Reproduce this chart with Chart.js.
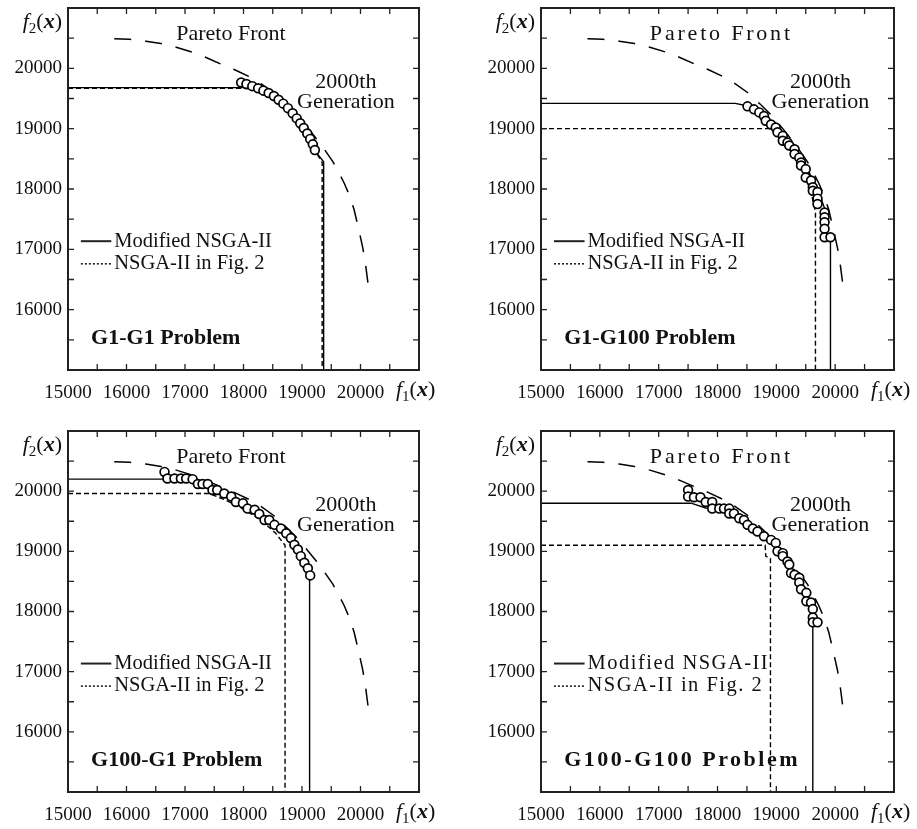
<!DOCTYPE html>
<html>
<head>
<meta charset="utf-8">
<title>Modified NSGA-II vs NSGA-II</title>
<script src="https://cdn.jsdelivr.net/npm/chart.js@4.4.1/dist/chart.umd.min.js"></script>
<style>
  html, body { margin: 0; padding: 0; background: #fff; }
  .cell { position: absolute; }
</style>
</head>
<body>
<div class="cell" style="left:0;top:0;width:459px;height:414px"><canvas id="g1g1"></canvas></div>
<div class="cell" style="left:458px;top:0;width:459px;height:414px"><canvas id="g1g100"></canvas></div>
<div class="cell" style="left:0;top:414px;width:459px;height:415px"><canvas id="g100g1"></canvas></div>
<div class="cell" style="left:458px;top:414px;width:459px;height:415px"><canvas id="g100g100"></canvas></div>
<script>
const serif = "'Liberation Serif', 'Times New Roman', serif";
Chart.defaults.font.family = serif;
Chart.defaults.color = '#111';

const axisMin = 15000, axisMax = 21000, tickStep = 500;
const xTickLabels = [15000, 16000, 17000, 18000, 19000, 20000];
const yTickLabels = [16000, 17000, 18000, 19000, 20000];

// Pareto front (same in all four problems)
const paretoF1 = [15790, 16050, 16330, 16590, 16850, 17150, 17360, 17640, 17840, 18080, 18310, 18510, 18710,
  18900, 19100, 19250, 19380, 19530, 19630, 19720, 19800, 19890, 19970, 20040, 20090, 20130];
const paretoF2 = [20490, 20480, 20450, 20410, 20350, 20260, 20180, 20060, 19980, 19870, 19740, 19600, 19420,
  19240, 19010, 18830, 18660, 18450, 18270, 18100, 17920, 17660, 17330, 17020, 16720, 16420];

// G1-G1
const g1g1PopF1 = [17960, 18050, 18150, 18250, 18340, 18430, 18520, 18600, 18680, 18760, 18840, 18910, 18970, 19030, 19090, 19140, 19185, 19220];
const g1g1PopF2 = [19765, 19740, 19705, 19668, 19630, 19590, 19540, 19480, 19415, 19340, 19255, 19170, 19090, 19010, 18920, 18830, 18740, 18645];
const g1g1ModF1 = [15000, 18000, 18200, 18450, 18700, 18950, 19150, 19280, 19370, 19370];
const g1g1ModF2 = [19680, 19680, 19660, 19560, 19380, 19110, 18820, 18560, 18450, 15000];
const g1g1OldF1 = [15000, 18000, 18200, 18450, 18700, 18950, 19150, 19270, 19345, 19345];
const g1g1OldF2 = [19670, 19670, 19650, 19550, 19370, 19100, 18810, 18560, 18440, 15000];

// G1-G100
const g1g100PopF1 = [18510, 18620, 18710, 18790, 18820, 18910, 18990, 19020, 19110, 19110, 19190, 19220, 19310, 19310, 19390, 19420,
  19420, 19500, 19500, 19590, 19620, 19620, 19700, 19700, 19700, 19820, 19820, 19820, 19820, 19820, 19920];
const g1g100PopF2 = [19370, 19320, 19270, 19210, 19130, 19070, 19020, 18940, 18880, 18800, 18770, 18720, 18660, 18580, 18520, 18440,
  18390, 18330, 18190, 18140, 18030, 17970, 17950, 17840, 17750, 17610, 17530, 17450, 17340, 17200, 17200];
const g1g100ModF1 = [15000, 18300, 18500, 18700, 18900, 19100, 19300, 19450, 19550, 19650, 19740, 19830, 19830, 19920, 19920];
const g1g100ModF2 = [19420, 19420, 19380, 19300, 19120, 18920, 18700, 18450, 18300, 18050, 17900, 17650, 17200, 17200, 15000];
const g1g100OldF1 = [15000, 18950, 19150, 19350, 19500, 19600, 19665, 19665];
const g1g100OldF2 = [19000, 19000, 18780, 18500, 18200, 17900, 17620, 15000];

// G100-G1
const g100g1PopF1 = [16650, 16700, 16820, 16930, 17020, 17130, 17220, 17300, 17390, 17470, 17550, 17670, 17790, 17870, 17990,
  18070, 18190, 18270, 18360, 18440, 18530, 18640, 18730, 18810, 18870, 18930, 18980, 19040, 19100, 19140];
const g100g1PopF2 = [20320, 20210, 20210, 20210, 20210, 20200, 20120, 20120, 20120, 20020, 20020, 19960, 19910, 19820, 19800,
  19710, 19690, 19620, 19520, 19520, 19440, 19380, 19300, 19220, 19110, 19030, 18920, 18810, 18720, 18600];
const g100g1ModF1 = [15000, 16650, 17100, 17200, 17450, 17520, 17700, 18000, 18300, 18600, 18850, 19000, 19130, 19130];
const g100g1ModF2 = [20200, 20200, 20200, 20120, 20120, 20020, 19960, 19800, 19620, 19400, 19170, 18930, 18620, 15000];
const g100g1OldF1 = [15000, 17420, 17700, 18000, 18300, 18550, 18710, 18710];
const g100g1OldF2 = [19960, 19960, 19850, 19700, 19520, 19300, 19100, 15000];

// G100-G100
const g100g100PopF1 = [17500, 17500, 17600, 17710, 17800, 17910, 17910, 18030, 18110, 18200, 18200, 18280, 18370, 18450, 18510, 18600,
  18680, 18790, 18910, 18990, 19020, 19110, 19110, 19190, 19220, 19250, 19310, 19390, 19390, 19420, 19510, 19510, 19590, 19620, 19620, 19620, 19700];
const g100g100PopF2 = [20020, 19910, 19900, 19900, 19820, 19820, 19710, 19710, 19710, 19710, 19630, 19630, 19550, 19520, 19440, 19380,
  19330, 19250, 19190, 19140, 19000, 18970, 18920, 18830, 18780, 18640, 18610, 18560, 18480, 18370, 18310, 18170, 18150, 18040, 17900, 17820, 17820];
const g100g100ModF1 = [15000, 17550, 17800, 18100, 18300, 18600, 18900, 19150, 19400, 19550, 19620, 19620];
const g100g100ModF2 = [19800, 19800, 19720, 19700, 19600, 19350, 19150, 18850, 18450, 18150, 17800, 15000];
const g100g100OldF1 = [15000, 18810, 18820, 18900, 18900];
const g100g100OldF2 = [19100, 19100, 18920, 18880, 15000];

const zip = (a, b) => a.map((v, i) => ({ x: v, y: b[i] }));

function drawText(ctx, str, x, y, font, align, spacing) {
  ctx.font = font;
  ctx.textAlign = align;
  ctx.textBaseline = 'middle';
  ctx.letterSpacing = (spacing || 0) + 'px';
  ctx.fillText(str, x, y);
  ctx.letterSpacing = '0px';
}

// f_n(x) axis name: italic f, subscript, bold italic x
function drawAxisName(ctx, sub, x, y, align) {
  const parts = [
    ['italic 22px ' + serif, 'f', 0],
    ['15px ' + serif, sub, 5],
    ['22px ' + serif, '(', 0],
    ['bold italic 22px ' + serif, 'x', 0],
    ['22px ' + serif, ')', 0]
  ];
  ctx.textAlign = 'left';
  ctx.textBaseline = 'alphabetic';
  let w = 0;
  parts.forEach(p => { ctx.font = p[0]; w += ctx.measureText(p[1]).width; });
  let cx = align === 'right' ? x - w : x;
  parts.forEach(p => {
    ctx.font = p[0];
    ctx.fillText(p[1], cx, y + p[2]);
    cx += ctx.measureText(p[1]).width;
  });
}

function decorations(opt) {
  return {
    id: 'decor',
    afterDatasetsDraw(chart) {
      const ctx = chart.ctx, a = chart.chartArea;
      const xs = chart.scales.x, ys = chart.scales.y;
      const X = v => xs.getPixelForValue(v), Y = v => ys.getPixelForValue(v);
      ctx.save();
      ctx.strokeStyle = '#222';
      ctx.fillStyle = '#111';

      // inward ticks on all four sides
      ctx.lineWidth = 1.3;
      ctx.beginPath();
      xs.ticks.forEach(t => {
        const px = X(t.value);
        ctx.moveTo(px, a.bottom); ctx.lineTo(px, a.bottom - 6);
        ctx.moveTo(px, a.top); ctx.lineTo(px, a.top + 6);
      });
      ys.ticks.forEach(t => {
        const py = Y(t.value);
        ctx.moveTo(a.left, py); ctx.lineTo(a.left + 6, py);
        ctx.moveTo(a.right, py); ctx.lineTo(a.right - 6, py);
      });
      ctx.stroke();

      // frame
      ctx.lineWidth = 2;
      ctx.strokeRect(a.left, a.top, a.right - a.left, a.bottom - a.top);

      // annotations
      drawText(ctx, 'Pareto Front', X(16850), Y(20560), '22px ' + serif, 'left', opt.paretoSpacing);
      drawText(ctx, '2000th', X(19750), Y(19770), '22px ' + serif, 'center', 0);
      drawText(ctx, 'Generation', X(19750), Y(19440), '22px ' + serif, 'center', 0);
      drawText(ctx, opt.title, X(15395), Y(15525), 'bold 22px ' + serif, 'left', opt.titleSpacing);

      // legend
      ctx.lineWidth = 2;
      ctx.beginPath();
      ctx.moveTo(X(15220), Y(17135)); ctx.lineTo(X(15740), Y(17135));
      ctx.stroke();
      ctx.setLineDash([2, 2]);
      ctx.lineWidth = 1.6;
      ctx.beginPath();
      ctx.moveTo(X(15220), Y(16760)); ctx.lineTo(X(15740), Y(16760));
      ctx.stroke();
      ctx.setLineDash([]);
      drawText(ctx, 'Modified NSGA-II', X(15790), Y(17135), '20.5px ' + serif, 'left', opt.legendSpacing);
      drawText(ctx, 'NSGA-II in Fig. 2', X(15790), Y(16760), '20.5px ' + serif, 'left', opt.legendSpacing);

      // axis names
      drawAxisName(ctx, '1', a.right - 23, a.bottom + 26, 'left');
      drawAxisName(ctx, '2', a.left - 6, a.top + 20, 'right');
      ctx.restore();
    }
  };
}

function panel(id, pad, popF1, popF2, modF1, modF2, oldF1, oldF2, opt) {
  new Chart(document.getElementById(id), {
    type: 'scatter',
    data: {
      datasets: [
        {
          label: '2000th Generation',
          data: zip(popF1, popF2),
          showLine: false,
          pointRadius: 4.4,
          pointBackgroundColor: '#fff',
          pointBorderColor: '#000',
          pointBorderWidth: 1.7,
          order: 0
        },
        {
          label: 'Modified NSGA-II',
          data: zip(modF1, modF2),
          showLine: true,
          borderColor: '#000',
          borderWidth: 1.4,
          pointRadius: 0,
          order: 1
        },
        {
          label: 'NSGA-II in Fig. 2',
          data: zip(oldF1, oldF2),
          showLine: true,
          borderColor: '#000',
          borderWidth: 1.4,
          borderDash: [5, 3],
          pointRadius: 0,
          order: 2
        },
        {
          label: 'Pareto Front',
          data: zip(paretoF1, paretoF2),
          showLine: true,
          borderColor: '#000',
          borderWidth: 1.5,
          borderDash: [17, 14],
          pointRadius: 0,
          order: 3
        }
      ]
    },
    options: {
      responsive: true,
      maintainAspectRatio: false,
      animation: false,
      layout: { padding: pad },
      plugins: {
        legend: { display: false },
        tooltip: { enabled: false }
      },
      scales: {
        x: {
          type: 'linear',
          min: axisMin,
          max: axisMax,
          grid: { display: false, drawTicks: false },
          border: { display: false },
          ticks: {
            stepSize: tickStep,
            autoSkip: false,
            maxRotation: 0,
            padding: 12,
            color: '#111',
            font: { size: 19 },
            callback: v => xTickLabels.includes(v) ? String(v) : ''
          },
          afterFit: s => { s.height = 35; s.paddingLeft = 0; s.paddingRight = 0; }
        },
        y: {
          type: 'linear',
          min: axisMin,
          max: axisMax,
          grid: { display: false, drawTicks: false },
          border: { display: false },
          ticks: {
            stepSize: tickStep,
            autoSkip: false,
            padding: 6,
            color: '#111',
            font: { size: 19 },
            callback: v => yTickLabels.includes(v) ? String(v) : ''
          },
          afterFit: s => { s.width = 60; s.paddingTop = 0; s.paddingBottom = 0; }
        }
      }
    },
    plugins: [decorations(opt)]
  });
}

panel('g1g1', { left: 8, right: 40, top: 8, bottom: 9 },
  g1g1PopF1, g1g1PopF2, g1g1ModF1, g1g1ModF2, g1g1OldF1, g1g1OldF2,
  { title: 'G1-G1 Problem', paretoSpacing: 0, legendSpacing: 0, titleSpacing: 0 });

panel('g1g100', { left: 23, right: 23, top: 8, bottom: 9 },
  g1g100PopF1, g1g100PopF2, g1g100ModF1, g1g100ModF2, g1g100OldF1, g1g100OldF2,
  { title: 'G1-G100 Problem', paretoSpacing: 2.8, legendSpacing: 0, titleSpacing: 0 });

panel('g100g1', { left: 8, right: 40, top: 17, bottom: 2 },
  g100g1PopF1, g100g1PopF2, g100g1ModF1, g100g1ModF2, g100g1OldF1, g100g1OldF2,
  { title: 'G100-G1 Problem', paretoSpacing: 0, legendSpacing: 0, titleSpacing: 0 });

panel('g100g100', { left: 23, right: 23, top: 17, bottom: 2 },
  g100g100PopF1, g100g100PopF2, g100g100ModF1, g100g100ModF2, g100g100OldF1, g100g100OldF2,
  { title: 'G100-G100 Problem', paretoSpacing: 2.8, legendSpacing: 1.5, titleSpacing: 2.5 });
</script>
</body>
</html>
